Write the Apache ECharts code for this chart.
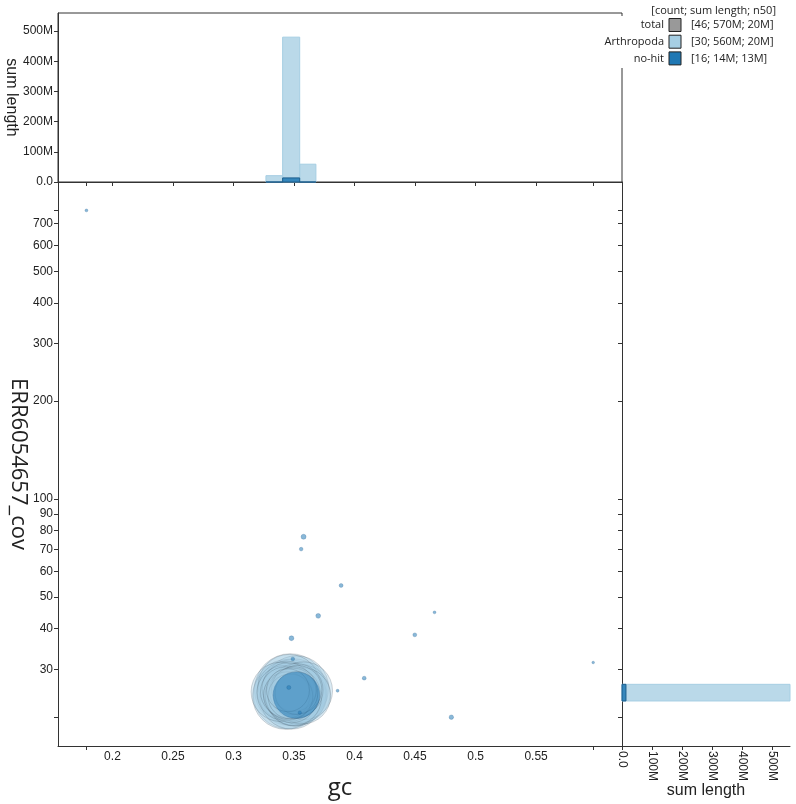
<!DOCTYPE html>
<html><head><meta charset="utf-8">
<script src="https://cdn.jsdelivr.net/npm/echarts@6/dist/echarts.min.js"></script>
<style>html,body{margin:0;padding:0;background:#fff}#c{width:796px;height:804px}</style>
</head><body><div id="c"></div>
<script>
// ---- tick labels ----
const gcTickLabels = [0.2, 0.25, 0.3, 0.35, 0.4, 0.45, 0.5, 0.55];
const covTickLabels = [30, 40, 50, 60, 70, 80, 90, 100, 200, 300, 400, 500, 600, 700];
const sumLengthTicks = [0, 100e6, 200e6, 300e6, 400e6, 500e6];

// ---- Arthropoda contigs (gc, coverage, length in Mb) ----
const arthropodaGc  = [0.347,0.345,0.350,0.343,0.352,0.348,0.346,0.351,0.344,0.353,0.342,0.350,0.347,0.352,0.345,0.348,0.343,0.351,0.346,0.353,0.349,0.344,0.350,0.347,0.352,0.345,0.339,0.356,0.358,0.357];
const arthropodaCov = [26.0,25.2,25.5,24.8,26.3,24.6,26.8,24.9,25.8,25.0,25.4,24.5,25.1,25.9,26.2,24.7,25.6,25.3,24.9,26.0,25.7,25.0,26.1,24.8,25.4,25.9,25.6,25.3,25.8,24.9];
const arthropodaLen = [31,29,27,26,25,24,23,22,21,20,18,18,17,17,16,16,15,15,14,14,13,13,12,12,11,11,21,20,20,19];

// ---- no-hit contigs ----
const noHitGc  = [0.352,0.1785,0.3579,0.3559,0.3889,0.370,0.4661,0.4498,0.3479,0.349,0.5972,0.408,0.386,0.480,0.3457,0.3548];
const noHitCov = [25.0,769,76.6,70.2,54.3,43.8,44.9,38.3,37.4,32.3,31.5,28.2,25.8,21.4,26.4,22.1];
const noHitLen = [13.0,0.05,0.15,0.08,0.09,0.14,0.05,0.09,0.14,0.08,0.04,0.09,0.05,0.12,0.10,0.07];

// ---- histograms ----
const gcHistEdges = [0.3268, 0.3406, 0.3547, 0.3681];
const arthropodaGcHist = [21e6, 480e6, 59e6];
const noHitGcHist = [0, 13.5e6, 0];
const covHistEdges = [24.0, 27.0];
const arthropodaCovHist = [560e6];
const noHitCovHist = [13.2e6];

// ---- legend ----
const legendNames = ['total', 'Arthropoda', 'no-hit'];
const legendStats = ['[46; 570M; 20M]', '[30; 560M; 20M]', '[16; 14M; 13M]'];
const legendColors = ['#999999', '#a6cee3', '#1f78b4'];

const GC_MIN = 0.155, GC_MAX = 0.621;
const COV_MIN = 17.46, COV_MAX = 940;
const LEN_MAX = 560e6;
const BUBBLE_K = 6.46;

const allGc = noHitGc.concat(arthropodaGc);
const allCov = noHitCov.concat(arthropodaCov);
const gcExt = [Math.min(...allGc), Math.max(...allGc)];
const covExt = [Math.min(...allCov), Math.max(...allCov)];

const LBL = {fontFamily: 'Liberation Sans', fontSize: 12, color: '#222'};
const AX_LINE = {show: true, lineStyle: {color: '#333', width: 1}};
const TICK = (vals) => ({show: true, length: 4, customValues: vals, lineStyle: {color: '#333'}});
const lenFmt = v => v === 0 ? '0.0' : (Math.round(v / 1e6)) + 'M';

function pts(gc, cov, len) {
  return gc.map((g, i) => [g, cov[i], len[i]]).sort((a, b) => b[2] - a[2]);
}
function gcBars(vals) {
  return vals.map((v, i) => [gcHistEdges[i], gcHistEdges[i + 1], v]);
}
function covBars(vals) {
  return vals.map((v, i) => [v, covHistEdges[i], covHistEdges[i + 1]]);
}
function histRenderV(fill, stroke) {
  return function (params, api) {
    const p0 = api.coord([api.value(0), 0]);
    const p1 = api.coord([api.value(1), api.value(2)]);
    return {type: 'rect', shape: {x: p0[0], y: p1[1], width: p1[0] - p0[0], height: p0[1] - p1[1]},
      style: {fill: fill, stroke: stroke, lineWidth: 1}};
  };
}
function histRenderH(fill, stroke) {
  return function (params, api) {
    const p0 = api.coord([0, api.value(1)]);
    const p1 = api.coord([api.value(0), api.value(2)]);
    return {type: 'rect', shape: {x: p0[0], y: p1[1], width: p1[0] - p0[0], height: p0[1] - p1[1]},
      style: {fill: fill, stroke: stroke, lineWidth: 1}};
  };
}

const chart = echarts.init(document.getElementById('c'), null, {renderer: 'canvas'});

const LFONT = '11px "Open Sans"';
const graphics = [
  {type: 'rect', z: 100, shape: {x: 600, y: 16, width: 196, height: 52}, style: {fill: '#fff'}},
  {type: 'text', z: 101, x: 776, y: 11, style: {text: '[count; sum length; n50]', align: 'right', verticalAlign: 'middle', font: LFONT, fill: '#222'}}
];
legendNames.forEach((n, i) => {
  const cy = 25 + i * 16.7;
  graphics.push({type: 'text', z: 101, x: 664, y: cy, style: {text: n, align: 'right', verticalAlign: 'middle', font: LFONT, fill: '#222'}});
  graphics.push({type: 'rect', z: 101, shape: {x: 669, y: cy - 6.5, width: 12, height: 13}, style: {fill: legendColors[i], stroke: '#222', lineWidth: 1}});
  graphics.push({type: 'text', z: 101, x: 691, y: cy, style: {text: legendStats[i], align: 'left', verticalAlign: 'middle', font: LFONT, fill: '#222'}});
});

chart.setOption({
  animation: false,
  backgroundColor: '#fff',
  grid: [
    {left: 58, top: 182, width: 564, height: 564, outerBoundsMode: 'none', containLabel: false},
    {left: 58, top: 13, width: 564, height: 169, outerBoundsMode: 'none', containLabel: false, show: true, borderColor: '#333', borderWidth: 1, backgroundColor: 'transparent'},
    {left: 622, top: 182, width: 168, height: 564, outerBoundsMode: 'none', containLabel: false}
  ],
  xAxis: [
    {gridIndex: 0, type: 'value', min: GC_MIN, max: GC_MAX, axisLine: AX_LINE,
     axisTick: TICK(gcExt), splitLine: {show: false},
     axisLabel: Object.assign({customValues: gcTickLabels, margin: 5, formatter: v => String(v)}, LBL),
     name: 'gc', nameLocation: 'middle', nameGap: 30, nameMoveOverlap: false,
     nameTextStyle: {fontFamily: 'Open Sans', fontSize: 24, color: '#222'}},
    {gridIndex: 1, type: 'value', min: GC_MIN, max: GC_MAX, axisLine: AX_LINE,
     axisTick: TICK([gcExt[0]].concat(gcTickLabels, [gcExt[1]])), axisLabel: {show: false}, splitLine: {show: false}},
    {gridIndex: 2, type: 'value', min: 0, max: LEN_MAX, axisLine: AX_LINE,
     axisTick: TICK(sumLengthTicks), splitLine: {show: false},
     axisLabel: Object.assign({customValues: sumLengthTicks, rotate: -90, margin: 5, formatter: lenFmt}, LBL),
     name: 'sum length', nameLocation: 'middle', nameGap: 37, nameMoveOverlap: false,
     nameTextStyle: {fontFamily: 'Liberation Sans', fontSize: 16, color: '#222'}}
  ],
  yAxis: [
    {gridIndex: 0, type: 'log', logBase: 10, min: COV_MIN, max: COV_MAX, axisLine: AX_LINE,
     axisTick: TICK([covExt[0]].concat(covTickLabels, [covExt[1]])), splitLine: {show: false},
     axisLabel: Object.assign({customValues: covTickLabels, margin: 5, formatter: v => String(Math.round(v))}, LBL),
     name: 'ERR6054657_cov', nameLocation: 'middle', nameGap: 29, nameRotate: -90, nameMoveOverlap: false,
     nameTextStyle: {fontFamily: 'Open Sans', fontSize: 22, color: '#222'}},
    {gridIndex: 1, type: 'value', min: 0, max: LEN_MAX, axisLine: AX_LINE,
     axisTick: TICK(sumLengthTicks), splitLine: {show: false},
     axisLabel: Object.assign({customValues: sumLengthTicks, margin: 5, formatter: lenFmt}, LBL),
     name: 'sum length', nameLocation: 'middle', nameGap: 39, nameRotate: -90, nameMoveOverlap: false,
     nameTextStyle: {fontFamily: 'Liberation Sans', fontSize: 16, color: '#222'}},
    {gridIndex: 2, type: 'log', logBase: 10, min: COV_MIN, max: COV_MAX, position: 'left', axisLine: AX_LINE,
     axisTick: TICK([covExt[0]].concat(covTickLabels, [covExt[1]])), axisLabel: {show: false}, splitLine: {show: false}}
  ],
  series: [
    {type: 'scatter', name: 'Arthropoda', xAxisIndex: 0, yAxisIndex: 0,
     data: pts(arthropodaGc, arthropodaCov, arthropodaLen),
     symbolSize: d => 2 * BUBBLE_K * Math.sqrt(d[2]),
     itemStyle: {color: 'rgba(166,206,227,0.5)', borderColor: 'rgba(40,50,60,0.3)', borderWidth: 0.8}},
    {type: 'scatter', name: 'no-hit', xAxisIndex: 0, yAxisIndex: 0,
     data: pts(noHitGc, noHitCov, noHitLen),
     symbolSize: d => 2 * BUBBLE_K * Math.sqrt(d[2]),
     itemStyle: {color: 'rgba(31,120,180,0.66)', borderColor: 'rgba(31,90,140,0.5)', borderWidth: 0.6}},
    {type: 'custom', xAxisIndex: 1, yAxisIndex: 1, data: gcBars(arthropodaGcHist),
     renderItem: histRenderV('rgba(166,206,227,0.78)', 'rgba(166,206,227,1)')},
    {type: 'custom', xAxisIndex: 1, yAxisIndex: 1, data: gcBars(noHitGcHist),
     renderItem: histRenderV('rgba(31,120,180,0.85)', '#1d5f8e')},
    {type: 'custom', xAxisIndex: 2, yAxisIndex: 2, data: covBars(arthropodaCovHist),
     renderItem: histRenderH('rgba(166,206,227,0.78)', 'rgba(166,206,227,1)')},
    {type: 'custom', xAxisIndex: 2, yAxisIndex: 2, data: covBars(noHitCovHist),
     renderItem: histRenderH('rgba(31,120,180,0.85)', '#1d5f8e')}
  ],
  graphic: graphics
});
</script>
</body></html>
